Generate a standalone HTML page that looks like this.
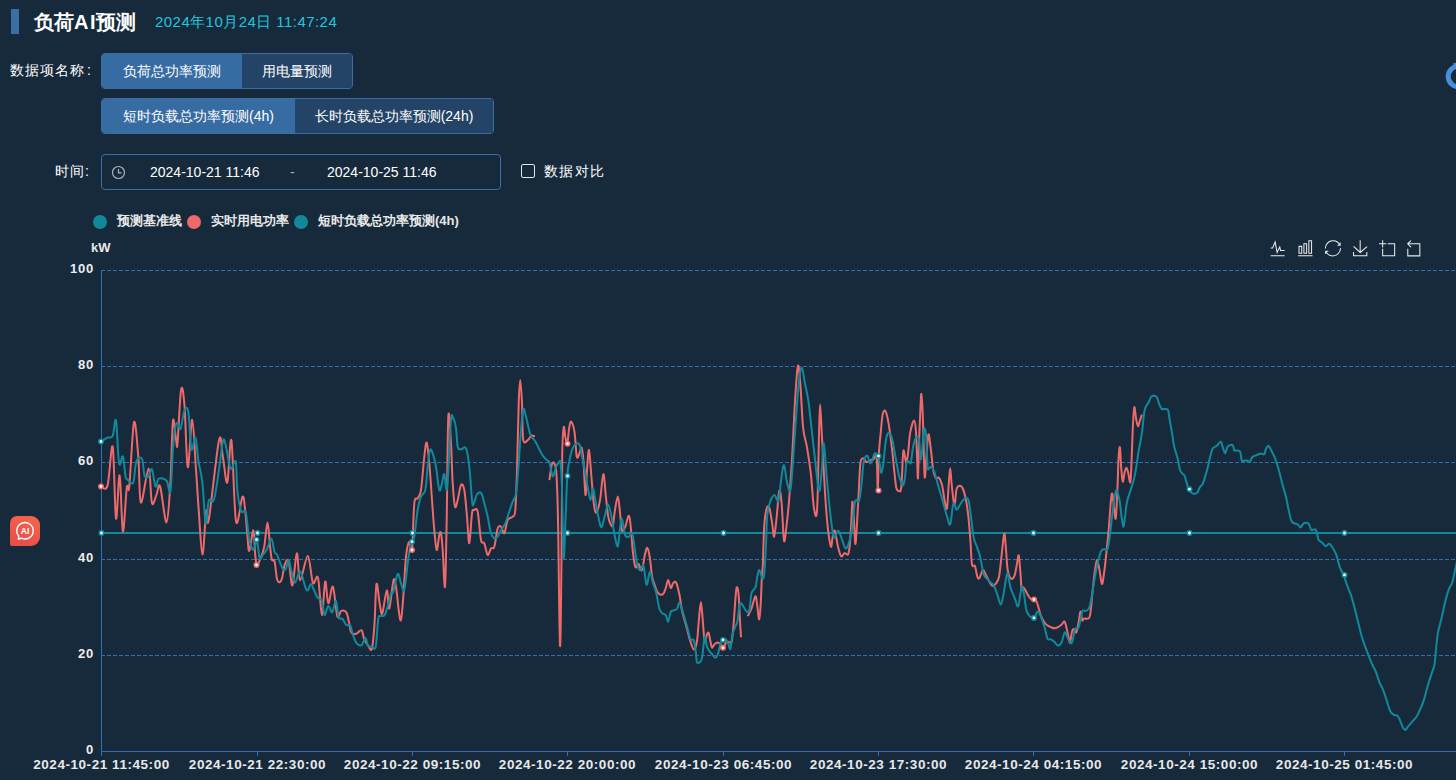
<!DOCTYPE html>
<html><head><meta charset="utf-8">
<style>
*{box-sizing:border-box;margin:0;padding:0}
html,body{width:1456px;height:780px;overflow:hidden;background:#162a3b;font-family:"Liberation Sans",sans-serif;color:#fff}
.a{position:absolute;white-space:nowrap}
.bar{left:11px;top:9px;width:8px;height:25px;background:#3a6ea5}
.title{left:34px;top:10px;font-size:20px;font-weight:bold;line-height:24px;color:#fff;letter-spacing:0px}
.date{left:155px;top:13px;font-size:15px;line-height:18px;color:#22c5dc;letter-spacing:0.45px}
.lbl{font-size:14px;line-height:20px;color:#fff}
.grp{display:flex;height:36px;border:1px solid #3a6ea5;border-radius:4px;overflow:hidden}
.btn{height:34px;line-height:34px;font-size:14px;color:#fff;text-align:center;background:#234466}
.btn.on{background:#376ca2}
.inp{left:101px;top:154px;width:400px;height:36px;border:1px solid #3a6ea5;border-radius:4px}
.chk{left:521px;top:164px;width:14px;height:14px;border:1px solid #e6e6e6;border-radius:2px}
.lg{font-size:13px;font-weight:bold;line-height:16px;color:#e8e8e8}
.dot{width:14px;height:14px;border-radius:50%}
svg text.yl{font-size:13px;font-weight:bold;fill:#eee;font-family:"Liberation Sans",sans-serif;letter-spacing:0.8px}
svg text.xl{font-size:13.5px;font-weight:bold;fill:#e8e8e8;font-family:"Liberation Sans",sans-serif;letter-spacing:0.55px}
.ai{left:10px;top:516px;width:30px;height:30px;border-radius:7px 9px 9px 2px;background:linear-gradient(200deg,#f4674a,#e84b4b)}
</style></head>
<body>
<div class="a bar"></div>
<div class="a title">负荷A<span style="margin-left:1.5px">I</span>预测</div>
<div class="a date">2024年10月24日 11:47:24</div>

<div class="a lbl" style="left:10px;top:60px;letter-spacing:1px">数据项名称<span style="margin-left:2px">:</span></div>
<div class="a grp" style="left:101px;top:53px;width:252px">
 <div class="btn on" style="width:140px">负荷总功率预测</div>
 <div class="btn" style="width:110px">用电量预测</div>
</div>
<div class="a grp" style="left:101px;top:98px;width:393px">
 <div class="btn on" style="width:193px">短时负载总功率预测(4h)</div>
 <div class="btn" style="width:198px">长时负载总功率预测(24h)</div>
</div>

<div class="a lbl" style="left:55px;top:161px;letter-spacing:1px">时间<span style="margin-left:0px">:</span></div>
<div class="a inp"></div>
<svg class="a" style="left:111px;top:165px" width="15" height="15" viewBox="0 0 15 15"><circle cx="7.5" cy="7.5" r="6" fill="none" stroke="#aab4be" stroke-width="1.2"/><path d="M7.5,4 V7.8 H10.5" fill="none" stroke="#aab4be" stroke-width="1.2"/></svg>
<div class="a lbl" style="left:150px;top:162px">2024-10-21 11:46</div>
<div class="a lbl" style="left:290px;top:162px;color:#aab">-</div>
<div class="a lbl" style="left:327px;top:162px">2024-10-25 11:46</div>
<div class="a chk"></div>
<div class="a lbl" style="left:544px;top:161px;letter-spacing:1.3px">数据对比</div>

<div class="a dot" style="left:93px;top:215px;background:#12899b"></div>
<div class="a lg" style="left:117px;top:213px">预测基准线</div>
<div class="a dot" style="left:187px;top:215px;background:#ee6a6a"></div>
<div class="a lg" style="left:211px;top:213px">实时用电功率</div>
<div class="a dot" style="left:294px;top:215px;background:#12899b"></div>
<div class="a lg" style="left:318px;top:213px">短时负载总功率预测(4h)</div>
<div class="a lg" style="left:91px;top:240px">kW</div>

<svg class="a" style="left:0;top:0" width="1456" height="780" viewBox="0 0 1456 780">
<line x1="101" y1="270.5" x2="1456" y2="270.5" stroke="#346fab" stroke-width="1" stroke-dasharray="4,2"/><line x1="101" y1="366.5" x2="1456" y2="366.5" stroke="#346fab" stroke-width="1" stroke-dasharray="4,2"/><line x1="101" y1="462.5" x2="1456" y2="462.5" stroke="#346fab" stroke-width="1" stroke-dasharray="4,2"/><line x1="101" y1="559.5" x2="1456" y2="559.5" stroke="#346fab" stroke-width="1" stroke-dasharray="4,2"/><line x1="101" y1="655.5" x2="1456" y2="655.5" stroke="#346fab" stroke-width="1" stroke-dasharray="4,2"/><line x1="101.5" y1="270" x2="101.5" y2="752" stroke="#346fab" stroke-width="1"/><line x1="101" y1="751.5" x2="1456" y2="751.5" stroke="#346fab" stroke-width="1"/><line x1="101.5" y1="751" x2="101.5" y2="756" stroke="#346fab" stroke-width="1"/><line x1="257.5" y1="751" x2="257.5" y2="756" stroke="#346fab" stroke-width="1"/><line x1="412.5" y1="751" x2="412.5" y2="756" stroke="#346fab" stroke-width="1"/><line x1="567.5" y1="751" x2="567.5" y2="756" stroke="#346fab" stroke-width="1"/><line x1="723.5" y1="751" x2="723.5" y2="756" stroke="#346fab" stroke-width="1"/><line x1="878.5" y1="751" x2="878.5" y2="756" stroke="#346fab" stroke-width="1"/><line x1="1033.5" y1="751" x2="1033.5" y2="756" stroke="#346fab" stroke-width="1"/><line x1="1189.5" y1="751" x2="1189.5" y2="756" stroke="#346fab" stroke-width="1"/><line x1="1344.5" y1="751" x2="1344.5" y2="756" stroke="#346fab" stroke-width="1"/><text x="94" y="272.9" text-anchor="end" class="yl">100</text><text x="94" y="368.9" text-anchor="end" class="yl">80</text><text x="94" y="464.9" text-anchor="end" class="yl">60</text><text x="94" y="561.9" text-anchor="end" class="yl">40</text><text x="94" y="657.9" text-anchor="end" class="yl">20</text><text x="94" y="753.9" text-anchor="end" class="yl">0</text><text x="101.5" y="769" text-anchor="middle" class="xl">2024-10-21 11:45:00</text><text x="257.5" y="769" text-anchor="middle" class="xl">2024-10-21 22:30:00</text><text x="412.5" y="769" text-anchor="middle" class="xl">2024-10-22 09:15:00</text><text x="567.5" y="769" text-anchor="middle" class="xl">2024-10-22 20:00:00</text><text x="723.5" y="769" text-anchor="middle" class="xl">2024-10-23 06:45:00</text><text x="878.5" y="769" text-anchor="middle" class="xl">2024-10-23 17:30:00</text><text x="1033.5" y="769" text-anchor="middle" class="xl">2024-10-24 04:15:00</text><text x="1189.5" y="769" text-anchor="middle" class="xl">2024-10-24 15:00:00</text><text x="1344.5" y="769" text-anchor="middle" class="xl">2024-10-25 01:45:00</text>
<line x1="101" y1="533" x2="1456" y2="533" stroke="#12899b" stroke-width="2"/>
<path d="M101.0,486.4 C102.1,486.3 105.5,492.2 107.5,485.6 C109.5,479.0 111.3,441.2 112.7,446.7 C114.1,452.2 114.8,513.7 116.0,518.5 C117.2,523.3 118.4,473.3 119.6,475.4 C120.8,477.5 121.7,529.2 122.9,531.3 C124.1,533.3 125.7,495.2 126.8,487.7 C127.9,480.2 128.1,497.3 129.3,486.4 C130.5,475.5 132.5,427.2 134.0,422.3 C135.5,417.4 137.2,443.6 138.3,457.0 C139.5,470.4 139.2,500.7 140.9,502.6 C142.6,504.5 146.8,468.4 148.6,468.5 C150.4,468.6 150.6,498.5 151.9,503.0 C153.2,507.5 154.9,498.2 156.3,495.4 C157.7,492.6 158.4,481.9 160.1,486.4 C161.8,490.9 164.8,522.9 166.5,522.3 C168.2,521.7 169.3,499.5 170.4,482.6 C171.5,465.7 172.0,428.3 172.9,421.0 C173.8,413.7 175.2,435.2 176.0,439.0 C176.8,442.8 176.7,451.8 177.5,443.6 C178.3,435.4 179.9,396.0 181.1,389.7 C182.3,383.4 183.4,392.7 184.5,405.6 C185.6,418.5 186.5,464.9 187.8,467.2 C189.1,469.5 190.8,419.3 192.2,419.7 C193.6,420.1 194.9,454.9 196.0,469.7 C197.1,484.4 197.5,494.1 198.6,508.2 C199.7,522.3 201.1,554.0 202.4,554.4 C203.7,554.8 205.2,516.6 206.3,510.8 C207.4,505.0 206.7,531.5 208.8,519.7 C210.9,508.0 216.7,450.8 219.0,440.3 C221.3,429.9 221.5,449.9 222.9,457.0 C224.3,464.1 225.9,485.4 227.3,482.6 C228.7,479.8 230.0,433.9 231.4,440.3 C232.8,446.8 234.2,511.9 236.0,521.3 C237.8,530.7 240.9,499.0 242.4,496.9 C243.9,494.8 244.2,501.9 245.0,508.5 C245.8,515.1 246.8,529.7 247.5,536.7 C248.2,543.8 248.3,551.9 249.3,550.8 C250.3,549.7 252.4,529.7 253.4,530.3 C254.4,530.9 254.6,548.8 255.2,554.6 C255.8,560.4 256.1,564.2 257.0,564.9 C257.9,565.5 259.2,561.5 260.4,558.5 C261.6,555.5 263.0,552.9 264.2,546.9 C265.4,540.9 266.5,522.6 267.5,522.6 C268.5,522.6 269.4,540.7 270.1,546.9 C270.8,553.1 271.2,557.4 271.9,559.7 C272.6,562.1 273.6,557.8 274.5,561.0 C275.4,564.2 276.1,575.5 277.0,579.0 C277.9,582.5 278.7,582.5 279.6,582.3 C280.5,582.1 281.4,580.6 282.2,577.7 C283.0,574.8 283.6,567.7 284.7,564.9 C285.8,562.1 287.3,557.6 288.6,561.0 C289.9,564.4 291.0,586.7 292.4,585.4 C293.8,584.1 295.5,554.1 296.8,553.3 C298.1,552.4 298.3,579.9 300.1,580.3 C301.9,580.7 305.7,555.5 307.8,555.9 C309.9,556.3 311.2,579.2 312.9,582.8 C314.6,586.4 316.5,572.4 318.0,577.7 C319.5,583.1 320.7,614.3 321.9,614.9 C323.1,615.5 324.1,583.4 325.2,581.5 C326.3,579.6 327.0,602.4 328.3,603.3 C329.6,604.2 331.4,584.6 332.9,586.7 C334.4,588.9 335.9,612.2 337.3,616.2 C338.7,620.2 339.6,611.6 341.1,611.0 C342.6,610.4 345.0,610.6 346.3,612.3 C347.6,614.0 348.0,617.9 348.8,621.3 C349.6,624.7 350.1,630.8 351.4,632.8 C352.7,634.8 354.8,634.0 356.5,633.6 C358.2,633.2 360.3,629.4 361.6,630.3 C362.9,631.2 363.1,636.7 364.2,639.2 C365.3,641.8 366.8,644.0 368.1,645.6 C369.4,647.2 370.8,652.3 371.9,648.7 C373.0,645.1 373.7,634.6 374.5,623.8 C375.3,613.0 375.6,587.5 376.5,584.1 C377.4,580.7 378.7,598.4 379.6,603.3 C380.6,608.2 381.0,615.7 382.2,613.6 C383.4,611.5 385.6,591.4 386.8,590.5 C388.0,589.6 388.2,610.2 389.3,608.5 C390.4,606.8 392.4,583.9 393.5,580.3 C394.6,576.7 395.1,581.8 396.0,586.7 C396.9,591.7 397.9,604.5 398.7,610.0 C399.5,615.5 400.2,622.2 401.0,620.0 C401.8,617.8 402.5,607.2 403.3,596.7 C404.1,586.2 405.0,565.9 406.0,556.7 C407.0,547.5 408.3,542.8 409.3,541.7 C410.3,540.6 411.2,556.4 412.0,550.0 C412.8,543.6 413.4,511.9 414.3,503.3 C415.2,494.7 416.6,500.5 417.7,498.3 C418.8,496.1 419.9,496.9 421.0,490.0 C422.1,483.1 423.4,464.6 424.3,456.7 C425.2,448.8 425.9,441.6 426.7,442.7 C427.5,443.8 428.4,453.8 429.3,463.3 C430.2,472.9 431.2,488.9 432.0,500.0 C432.8,511.1 433.5,521.7 434.3,530.0 C435.1,538.3 435.9,549.2 436.7,550.0 C437.5,550.8 438.6,537.8 439.3,535.0 C440.0,532.2 440.4,530.8 441.0,533.3 C441.6,535.8 442.0,541.1 442.7,550.0 C443.4,558.9 444.3,591.7 445.0,586.7 C445.7,581.7 446.1,548.3 446.7,520.0 C447.2,491.7 447.6,429.5 448.3,416.7 C449.0,403.9 450.3,432.2 451.0,443.3 C451.7,454.4 452.0,472.7 452.7,483.3 C453.4,493.9 454.2,503.9 455.0,506.7 C455.8,509.5 456.7,503.6 457.7,500.0 C458.7,496.4 459.9,486.7 461.0,485.0 C462.1,483.3 463.3,484.7 464.3,490.0 C465.3,495.3 466.2,507.8 467.0,516.7 C467.8,525.6 468.5,543.9 469.3,543.3 C470.1,542.7 471.2,518.8 472.0,513.3 C472.8,507.7 473.4,510.3 474.3,510.0 C475.2,509.7 476.6,506.7 477.7,511.7 C478.8,516.7 479.9,534.7 481.0,540.0 C482.1,545.3 483.2,540.8 484.3,543.3 C485.4,545.8 486.6,554.2 487.7,555.0 C488.8,555.8 489.9,549.7 491.0,548.3 C492.1,546.9 493.2,550.0 494.3,546.7 C495.4,543.4 496.6,531.6 497.7,528.3 C498.8,525.0 499.9,525.9 501.0,526.7 C502.1,527.5 503.2,534.4 504.3,533.3 C505.4,532.2 506.3,522.8 507.7,520.0 C509.1,517.2 511.4,518.4 512.7,516.7 C514.0,515.0 514.6,517.8 515.3,510.0 C516.0,502.2 516.4,487.8 517.0,470.0 C517.6,452.2 518.2,418.3 518.7,403.3 C519.2,388.3 519.8,380.0 520.3,380.0 C520.8,380.0 521.5,393.4 522.0,403.3 C522.5,413.2 522.2,433.6 523.2,439.6 C524.2,445.7 526.9,440.3 528.3,439.6 C529.7,438.9 530.3,436.0 531.4,435.5 C532.5,435.0 534.4,436.3 535.0,436.5" fill="none" stroke="#ee6a6a" stroke-width="2" stroke-linejoin="round"/><path d="M549.4,480.1 C549.8,477.5 551.0,466.9 551.9,464.2 C552.8,461.5 553.7,461.9 554.5,463.7 C555.3,465.5 555.9,465.6 556.5,475.0 C557.1,484.4 557.4,491.6 558.0,520.0 C558.6,548.5 559.4,639.0 560.0,645.7 C560.6,652.4 561.1,591.6 561.5,560.0 C561.9,528.4 561.8,478.1 562.2,456.0 C562.6,433.9 563.2,430.3 563.7,427.3 C564.2,424.3 564.9,435.3 565.5,438.0 C566.1,440.7 566.7,445.4 567.3,443.7 C567.9,442.0 568.6,431.7 569.2,428.0 C569.9,424.3 570.3,421.0 571.2,421.7 C572.1,422.4 573.6,426.4 574.5,432.0 C575.4,437.6 575.9,450.8 576.5,455.0 C577.1,459.2 577.6,457.5 578.1,457.0 C578.6,456.5 579.2,453.5 579.8,452.0 C580.4,450.5 581.1,446.1 581.7,447.8 C582.3,449.5 582.9,454.1 583.5,462.0 C584.1,469.9 584.9,493.7 585.5,495.0 C586.1,496.3 586.4,477.5 587.0,470.0 C587.6,462.5 588.3,449.2 589.0,449.9 C589.7,450.6 590.4,465.1 591.2,474.0 C592.0,482.9 592.9,496.6 593.7,503.0 C594.6,509.4 595.2,513.1 596.3,512.6 C597.4,512.1 598.9,506.2 600.1,499.8 C601.3,493.4 602.3,474.6 603.3,474.1 C604.3,473.6 605.1,489.7 605.9,496.6 C606.7,503.6 607.4,511.3 608.1,515.8 C608.9,520.3 609.6,522.2 610.4,523.8 C611.2,525.4 612.3,527.3 613.0,525.4 C613.7,523.5 613.8,517.4 614.6,512.6 C615.4,507.8 616.9,496.6 617.8,496.6 C618.7,496.6 619.3,507.0 620.0,512.6 C620.7,518.2 621.0,527.8 621.9,530.2 C622.8,532.6 623.9,529.4 625.1,527.0 C626.3,524.6 628.0,515.0 629.0,515.8 C630.0,516.6 630.6,525.9 631.2,531.8 C631.8,537.7 632.1,545.2 632.8,551.1 C633.5,557.0 634.4,565.0 635.4,567.1 C636.4,569.2 637.5,563.4 638.6,563.9 C639.7,564.4 640.7,571.9 641.8,570.3 C642.9,568.7 644.1,558.0 645.0,554.3 C645.9,550.6 646.5,547.4 647.3,547.9 C648.1,548.4 649.0,552.7 649.8,557.5 C650.6,562.3 651.3,572.2 652.1,576.7 C652.9,581.2 653.7,582.0 654.6,584.7 C655.5,587.4 656.5,591.1 657.8,592.7 C659.1,594.3 661.3,595.2 662.6,594.4 C663.9,593.6 664.9,590.4 665.8,588.0 C666.7,585.6 667.3,579.9 668.1,579.9 C668.9,579.9 669.9,587.5 670.7,588.0 C671.6,588.5 672.3,584.0 673.2,583.1 C674.1,582.2 675.1,580.7 676.1,582.5 C677.1,584.3 678.3,589.4 679.3,594.0 C680.3,598.6 681.1,605.9 681.9,610.0 C682.7,614.1 683.2,615.1 684.1,618.4 C685.0,621.7 686.3,626.4 687.3,630.0 C688.3,633.6 688.9,636.8 690.0,640.0 C691.1,643.2 692.6,649.3 693.8,649.5 C695.0,649.7 696.2,645.8 697.0,641.0 C697.8,636.2 698.1,627.5 698.8,621.0 C699.4,614.5 700.2,602.0 700.9,602.0 C701.6,602.0 702.2,614.4 702.8,621.0 C703.4,627.6 704.1,639.5 704.7,641.8 C705.4,644.1 706.1,636.5 706.7,635.0 C707.4,633.5 708.0,631.7 708.6,632.8 C709.2,633.9 709.9,639.3 710.5,641.8 C711.1,644.3 711.4,647.2 712.0,647.6 C712.6,648.0 713.5,645.3 714.4,644.4 C715.3,643.5 716.5,642.4 717.6,642.4 C718.7,642.4 719.9,643.5 720.8,644.4 C721.7,645.3 722.1,648.2 723.1,647.8 C724.1,647.4 725.4,642.7 726.5,641.8 C727.6,640.9 728.8,642.4 729.7,642.4 C730.6,642.4 731.1,644.9 731.7,641.8 C732.4,638.7 732.9,631.9 733.6,623.8 C734.3,615.7 735.3,599.2 735.9,593.1 C736.5,587.0 736.7,586.9 737.2,587.3 C737.7,587.7 738.2,589.9 738.7,595.6 C739.2,601.3 739.6,614.3 740.0,621.3 C740.4,628.2 740.8,634.6 741.0,637.3" fill="none" stroke="#ee6a6a" stroke-width="2" stroke-linejoin="round"/><path d="M747.7,616.2 C748.3,614.9 750.2,611.8 751.5,608.5 C752.8,605.2 754.4,596.7 755.4,596.3 C756.4,595.9 756.7,602.0 757.3,605.9 C757.9,609.8 758.6,620.0 759.2,619.4 C759.8,618.8 760.4,609.0 760.8,602.0 C761.2,595.0 761.5,583.9 761.8,577.7 C762.1,571.5 762.4,573.5 762.8,565.0 C763.2,556.5 763.6,536.1 764.2,526.7 C764.8,517.4 765.6,512.1 766.5,508.9 C767.4,505.7 768.4,505.4 769.3,507.7 C770.2,510.0 771.3,518.0 772.1,522.8 C772.9,527.6 773.4,537.4 774.1,536.7 C774.8,536.0 775.6,526.4 776.5,518.8 C777.4,511.2 778.4,493.6 779.2,491.0 C780.1,488.4 780.8,494.6 781.6,502.9 C782.4,511.2 783.2,536.6 784.0,540.6 C784.8,544.6 785.5,533.7 786.4,526.7 C787.3,519.8 788.3,510.1 789.2,498.9 C790.1,487.6 791.0,475.7 792.0,459.2 C793.0,442.7 794.1,415.2 795.1,399.7 C796.1,384.2 797.0,368.6 797.9,366.0 C798.8,363.4 799.4,373.6 800.3,383.8 C801.2,394.1 802.0,416.9 803.1,427.5 C804.2,438.1 805.7,439.4 807.0,447.3 C808.3,455.2 809.9,465.2 811.0,475.1 C812.1,485.0 812.8,500.9 813.8,506.9 C814.8,512.9 816.1,522.1 817.0,510.9 C817.9,499.6 818.4,457.1 818.9,439.4 C819.4,421.7 819.6,404.5 820.1,404.5 C820.6,404.5 821.3,425.0 822.1,439.4 C822.9,453.8 824.0,476.4 824.9,491.0 C825.8,505.6 826.7,517.4 827.7,526.7 C828.7,536.0 830.1,544.9 830.9,546.6 C831.7,548.3 832.0,539.8 832.6,537.1 C833.2,534.5 833.9,529.1 834.8,530.7 C835.7,532.3 836.9,542.4 838.0,546.7 C839.1,551.0 840.1,555.2 841.2,556.3 C842.3,557.4 843.2,553.6 844.4,553.1 C845.6,552.6 847.5,556.8 848.6,553.1 C849.7,549.4 850.2,539.2 850.8,530.7 C851.4,522.2 851.9,503.4 852.4,501.8 C852.9,500.2 853.5,514.1 854.0,521.1 C854.5,528.1 854.9,547.0 855.6,543.5 C856.3,540.0 857.5,513.2 858.3,500.0 C859.1,486.8 859.5,471.1 860.3,464.1 C861.0,457.2 861.7,458.7 862.8,458.3 C863.9,457.9 865.4,461.7 866.7,462.0 C868.0,462.3 869.4,460.6 870.5,460.2 C871.6,459.8 872.3,459.9 873.3,459.5 C874.3,459.1 875.9,452.4 876.6,457.5 C877.4,462.6 877.4,490.8 877.8,490.4 C878.2,490.0 878.3,464.8 878.8,455.1 C879.3,445.4 880.1,438.8 880.8,432.0 C881.4,425.2 882.0,417.6 882.7,414.1 C883.5,410.6 884.4,410.0 885.3,410.9 C886.1,411.8 887.1,415.9 887.8,419.2 C888.5,422.5 889.0,425.4 889.7,430.8 C890.5,436.2 891.5,444.7 892.3,451.3 C893.0,457.9 893.6,464.5 894.2,470.5 C894.9,476.5 895.5,483.8 896.2,487.2 C897.0,490.6 897.9,491.0 898.7,491.0 C899.6,491.0 900.5,493.7 901.3,487.2 C902.0,480.7 902.6,456.9 903.2,451.9 C903.8,446.9 904.5,455.2 905.0,457.0 C905.5,458.8 905.9,463.8 906.4,462.8 C906.9,461.9 907.6,456.4 908.3,451.3 C908.9,446.2 909.3,437.1 910.3,432.0 C911.3,426.9 913.1,420.5 914.1,420.5 C915.1,420.5 915.5,424.8 916.0,432.0 C916.5,439.2 917.0,456.4 917.3,464.0 C917.6,471.6 917.7,481.9 918.0,477.6 C918.3,473.4 918.8,450.4 919.2,438.5 C919.6,426.6 920.1,413.8 920.5,406.4 C920.9,399.0 921.0,391.8 921.4,394.4 C921.8,396.9 922.5,408.1 923.0,421.7 C923.5,435.3 924.1,469.8 924.6,476.2 C925.1,482.6 925.6,467.1 926.2,460.2 C926.8,453.2 927.6,436.1 928.4,434.5 C929.2,432.9 930.2,444.6 931.0,450.5 C931.8,456.4 932.4,465.2 933.2,469.8 C934.0,474.4 934.8,476.5 935.8,477.8 C936.8,479.1 937.9,476.5 939.0,477.8 C940.1,479.1 941.2,481.8 942.2,485.8 C943.2,489.8 944.0,498.1 944.8,501.8 C945.6,505.5 946.4,510.9 947.0,508.2 C947.6,505.5 948.1,492.5 948.6,485.8 C949.1,479.1 949.7,468.2 950.2,468.2 C950.7,468.2 951.1,479.7 951.8,485.8 C952.5,491.9 953.6,504.5 954.4,505.0 C955.2,505.5 955.7,492.2 956.6,489.0 C957.5,485.8 958.7,485.8 959.8,485.8 C960.9,485.8 961.9,486.3 963.0,489.0 C964.1,491.7 965.4,497.0 966.3,501.8 C967.2,506.6 967.8,511.5 968.5,517.9 C969.2,524.3 969.8,532.5 970.4,540.3 C971.0,548.0 971.2,560.1 972.0,564.4 C972.8,568.7 974.0,563.9 974.9,566.0 C975.8,568.1 976.7,575.2 977.5,577.2 C978.3,579.2 978.6,579.2 979.5,578.0 C980.4,576.8 981.8,570.8 982.8,570.1 C983.8,569.4 984.2,571.9 985.2,573.6 C986.2,575.3 987.6,578.5 988.7,580.5 C989.9,582.5 991.0,585.1 992.1,585.7 C993.2,586.3 994.5,585.4 995.6,583.9 C996.8,582.4 998.0,581.6 999.0,577.0 C1000.0,572.4 1000.6,563.4 1001.5,556.2 C1002.4,549.0 1003.5,534.9 1004.2,533.7 C1005.0,532.6 1005.4,543.2 1006.0,549.3 C1006.6,555.4 1006.8,565.2 1007.7,570.1 C1008.6,575.0 1010.1,577.8 1011.2,578.7 C1012.4,579.6 1013.6,577.9 1014.6,575.3 C1015.6,572.7 1016.4,566.5 1017.1,563.2 C1017.8,559.9 1018.2,553.8 1018.8,555.5 C1019.4,557.2 1020.0,568.0 1020.5,573.6 C1021.0,579.2 1021.1,586.8 1021.6,589.1 C1022.1,591.4 1022.6,587.1 1023.3,587.4 C1024.0,587.7 1024.8,589.5 1025.7,590.9 C1026.6,592.3 1027.6,594.6 1028.5,596.0 C1029.4,597.4 1030.4,598.9 1031.3,599.5 C1032.2,600.1 1032.9,599.3 1033.7,599.5 C1034.5,599.7 1035.3,599.5 1036.1,600.6 C1036.8,601.8 1037.5,604.0 1038.2,606.4 C1039.0,608.8 1039.6,612.5 1040.6,615.1 C1041.6,617.7 1042.9,620.3 1044.1,622.0 C1045.2,623.7 1046.3,624.6 1047.5,625.5 C1048.7,626.4 1049.8,626.7 1051.0,627.2 C1052.2,627.7 1053.3,628.3 1054.5,628.3 C1055.7,628.3 1056.8,627.8 1057.9,627.2 C1059.1,626.6 1060.2,625.7 1061.4,624.8 C1062.6,623.9 1063.7,620.1 1064.8,622.0 C1065.9,623.9 1067.4,632.4 1068.3,635.9 C1069.2,639.4 1069.4,643.4 1070.0,642.8 C1070.6,642.2 1071.2,634.7 1071.8,632.4 C1072.4,630.1 1072.8,629.0 1073.5,629.0 C1074.2,629.0 1075.4,633.6 1076.3,632.4 C1077.2,631.2 1078.0,625.5 1078.7,622.0 C1079.4,618.5 1079.8,611.9 1080.4,611.6 C1081.0,611.3 1081.6,619.1 1082.2,620.3 C1082.8,621.5 1083.0,618.9 1083.9,618.6 C1084.8,618.3 1086.4,619.2 1087.4,618.6 C1088.4,618.0 1089.2,619.7 1090.1,615.1 C1091.0,610.5 1091.8,598.4 1092.6,590.9 C1093.4,583.4 1094.2,575.3 1095.0,570.1 C1095.8,564.9 1096.3,559.7 1097.1,559.7 C1097.8,559.7 1098.7,566.1 1099.5,570.1 C1100.3,574.1 1101.2,583.3 1101.9,583.9 C1102.7,584.5 1103.2,578.8 1104.0,573.6 C1104.8,568.4 1105.6,560.3 1106.4,552.8 C1107.2,545.3 1108.0,537.2 1108.8,528.5 C1109.5,519.8 1110.3,506.6 1110.9,500.8 C1111.5,495.0 1111.8,492.8 1112.3,493.9 C1112.8,495.0 1113.4,503.7 1114.0,507.7 C1114.6,511.7 1115.2,521.6 1115.8,518.1 C1116.4,514.6 1117.0,496.8 1117.5,487.0 C1118.0,477.2 1118.1,465.9 1118.5,459.3 C1118.9,452.7 1119.5,445.7 1119.9,447.1 C1120.4,448.5 1120.7,461.9 1121.2,467.7 C1121.7,473.4 1122.2,480.8 1122.8,481.6 C1123.4,482.4 1124.0,474.7 1124.6,472.4 C1125.2,470.1 1125.9,467.7 1126.5,467.7 C1127.1,467.7 1127.4,470.1 1128.1,472.4 C1128.8,474.7 1129.8,485.5 1130.4,481.6 C1131.1,477.8 1131.6,458.5 1132.0,449.3 C1132.4,440.1 1132.5,433.2 1132.9,426.2 C1133.3,419.2 1133.8,408.3 1134.3,407.2 C1134.8,406.1 1135.6,416.1 1136.2,419.3 C1136.8,422.5 1137.4,425.8 1138.0,426.2 C1138.6,426.6 1138.9,423.5 1139.6,421.6 C1140.2,419.7 1141.5,415.8 1141.9,414.6" fill="none" stroke="#ee6a6a" stroke-width="2" stroke-linejoin="round"/>
<path d="M101.1,441.5 C102.2,440.9 105.6,438.6 107.5,437.7 C109.4,436.8 111.3,438.8 112.7,435.9 C114.1,433.0 114.9,415.9 116.0,420.5 C117.1,425.1 117.9,457.3 119.1,463.3 C120.2,469.3 121.8,454.2 122.9,456.4 C124.0,458.5 124.7,472.3 125.5,476.2 C126.3,480.1 126.7,478.9 128.0,480.0 C129.3,481.1 131.9,485.2 133.2,482.6 C134.5,480.0 134.8,468.7 135.7,464.6 C136.5,460.5 137.2,459.1 138.3,458.2 C139.4,457.3 141.1,456.5 142.2,459.5 C143.3,462.5 143.6,473.4 144.7,476.2 C145.8,479.0 147.4,477.4 148.6,476.2 C149.8,475.0 150.8,467.5 151.9,469.2 C153.1,470.9 154.3,484.8 155.5,486.4 C156.7,488.0 157.0,479.7 158.8,478.7 C160.6,477.7 164.6,478.4 166.5,480.5 C168.4,482.6 169.3,496.7 170.4,491.5 C171.5,486.3 172.1,460.1 172.9,449.2 C173.8,438.3 174.7,430.5 175.5,426.2 C176.3,421.9 177.2,423.2 178.0,423.6 C178.8,424.0 179.5,430.9 180.6,428.7 C181.7,426.5 183.2,413.1 184.5,410.3 C185.8,407.5 187.2,405.5 188.3,412.0 C189.5,418.5 190.2,444.9 191.4,449.2 C192.6,453.5 194.3,435.6 195.5,437.7 C196.7,439.8 197.4,454.5 198.6,462.0 C199.8,469.5 201.2,472.3 202.4,482.6 C203.6,492.9 204.6,520.6 205.7,523.6 C206.8,526.6 207.4,504.4 208.8,500.5 C210.2,496.6 212.2,505.1 213.9,500.0 C215.6,494.9 217.5,479.4 219.0,469.7 C220.5,459.9 221.8,445.8 222.9,441.5 C224.0,437.2 224.2,439.6 225.5,444.1 C226.8,448.6 228.9,465.6 230.6,468.5 C232.3,471.4 234.6,457.9 235.7,461.5 C236.8,465.1 236.4,481.8 237.3,490.0 C238.2,498.2 239.7,507.3 241.1,511.0 C242.5,514.7 244.4,508.0 245.7,512.3 C247.0,516.6 247.9,530.9 248.8,536.7 C249.8,542.5 250.5,544.9 251.4,547.0 C252.3,549.1 253.1,550.7 254.0,549.5 C254.9,548.3 256.1,538.2 257.0,539.7 C257.9,541.2 258.6,556.0 259.6,558.5 C260.6,561.0 261.7,556.1 262.9,554.6 C264.1,553.1 265.4,552.1 266.8,549.5 C268.2,546.9 270.1,538.3 271.4,538.7 C272.7,539.1 273.6,549.4 274.5,552.0 C275.4,554.6 275.9,552.5 277.0,554.6 C278.1,556.8 279.8,562.4 280.9,564.9 C282.0,567.4 282.5,568.9 283.4,569.5 C284.2,570.1 285.1,570.3 286.0,568.7 C286.9,567.1 287.8,559.5 288.6,559.7 C289.5,559.9 290.0,566.1 291.1,570.0 C292.2,573.9 293.5,582.6 295.0,582.8 C296.5,583.0 298.4,570.6 300.1,571.3 C301.8,571.9 303.9,583.5 305.2,586.7 C306.5,589.9 306.9,590.9 307.8,590.5 C308.8,590.1 309.8,584.1 310.9,584.1 C312.0,584.1 313.0,588.1 314.2,590.5 C315.4,592.9 316.7,596.5 318.0,598.2 C319.3,599.9 320.8,598.0 321.9,600.8 C323.0,603.6 323.4,614.0 324.5,614.9 C325.6,615.8 327.0,606.3 328.3,605.9 C329.6,605.5 330.9,613.1 332.2,612.3 C333.5,611.4 334.9,599.9 336.0,600.8 C337.1,601.6 337.5,614.4 338.6,617.4 C339.7,620.4 341.1,617.4 342.4,618.7 C343.7,620.0 345.0,624.0 346.3,625.1 C347.6,626.2 349.0,623.6 350.1,625.1 C351.2,626.6 351.6,631.1 352.7,634.1 C353.8,637.1 355.0,641.3 356.5,643.1 C358.0,644.9 360.1,646.0 361.6,645.1 C363.1,644.2 364.4,637.9 365.5,638.0 C366.6,638.1 366.9,644.1 368.0,645.6 C369.1,647.1 370.6,646.7 371.9,646.9 C373.2,647.1 374.6,651.6 375.7,646.9 C376.8,642.2 377.4,623.8 378.3,618.7 C379.2,613.6 379.8,616.8 380.9,616.2 C382.0,615.6 383.4,617.0 384.7,614.9 C386.0,612.8 387.5,606.9 388.6,603.3 C389.7,599.7 390.3,595.0 391.1,593.1 C391.9,591.2 392.2,594.9 393.3,591.7 C394.4,588.5 396.4,575.4 397.7,574.0 C399.0,572.6 399.9,580.6 401.0,583.3 C402.1,586.0 403.2,593.3 404.3,590.0 C405.4,586.7 406.8,570.2 407.7,563.3 C408.6,556.3 409.3,551.9 410.0,548.3 C410.7,544.7 411.3,543.6 412.0,541.7 C412.7,539.8 413.4,542.0 414.3,536.7 C415.2,531.4 416.6,516.7 417.7,510.0 C418.8,503.3 419.7,500.0 421.0,496.7 C422.3,493.4 424.2,495.0 425.3,490.0 C426.4,485.0 426.9,473.4 427.7,466.7 C428.5,460.0 429.2,452.2 430.0,450.0 C430.8,447.8 431.7,450.5 432.7,453.3 C433.7,456.1 434.9,460.6 436.0,466.7 C437.1,472.8 438.3,487.2 439.3,490.0 C440.3,492.8 441.2,486.0 442.0,483.3 C442.8,480.6 443.5,472.9 444.3,474.0 C445.1,475.1 446.0,491.8 446.7,490.0 C447.4,488.2 448.0,475.0 448.7,463.3 C449.4,451.6 450.3,427.8 451.0,420.0 C451.7,412.2 451.9,415.3 452.7,416.7 C453.5,418.1 455.2,423.3 456.0,428.3 C456.8,433.3 456.9,443.2 457.7,446.7 C458.5,450.2 459.6,449.0 461.0,449.3 C462.4,449.6 464.6,445.4 466.0,448.3 C467.4,451.2 468.3,458.1 469.3,466.7 C470.3,475.3 471.3,493.6 472.0,500.0 C472.7,506.4 472.5,505.8 473.3,505.0 C474.1,504.2 475.4,497.1 476.7,495.0 C478.0,492.9 479.7,491.3 481.0,492.7 C482.3,494.1 483.2,499.3 484.3,503.3 C485.4,507.3 486.6,511.7 487.7,516.7 C488.8,521.7 489.9,529.7 491.0,533.3 C492.1,536.9 493.2,537.7 494.3,538.3 C495.4,538.9 496.6,538.1 497.7,536.7 C498.8,535.3 499.7,532.2 501.0,530.0 C502.3,527.8 504.0,526.1 505.3,523.3 C506.6,520.5 507.5,516.9 508.7,513.3 C509.9,509.7 511.5,505.0 512.7,501.7 C513.9,498.4 515.0,499.7 516.0,493.3 C517.0,486.9 517.9,473.9 518.7,463.3 C519.5,452.8 520.2,439.0 521.0,430.0 C521.8,421.0 522.5,411.5 523.3,409.3 C524.1,407.1 524.8,412.5 526.0,416.7 C527.2,420.9 528.8,430.3 530.4,434.5 C532.0,438.7 533.6,438.4 535.5,441.7 C537.4,444.9 540.0,451.1 541.7,454.0 C543.4,456.9 544.5,457.7 545.8,459.1 C547.1,460.5 548.5,460.4 549.4,462.2 C550.3,464.0 550.4,467.6 551.0,470.0 C551.6,472.4 552.2,477.0 553.0,476.5 C553.8,476.0 555.1,469.3 556.0,467.0 C556.9,464.7 557.8,463.4 558.6,462.7 C559.4,462.0 560.0,458.4 560.6,463.0 C561.2,467.6 561.5,474.2 562.0,490.0 C562.5,505.8 563.0,552.5 563.6,557.5 C564.2,562.5 564.9,533.6 565.5,520.0 C566.1,506.4 566.6,485.8 567.3,476.0 C567.9,466.2 568.5,465.5 569.4,461.0 C570.2,456.5 571.2,451.7 572.4,448.8 C573.6,445.9 575.3,444.4 576.5,443.7 C577.7,443.0 578.7,442.8 579.6,444.7 C580.5,446.6 580.9,450.8 581.7,455.0 C582.6,459.2 583.7,464.5 584.7,470.0 C585.7,475.5 586.8,483.0 587.8,488.0 C588.8,493.0 589.7,499.9 590.6,500.0 C591.5,500.1 592.2,487.6 593.1,488.6 C594.0,489.6 595.2,500.6 596.3,506.2 C597.4,511.8 598.6,518.7 599.5,522.2 C600.4,525.7 600.8,528.1 601.7,527.0 C602.6,525.9 603.8,519.5 604.9,515.8 C606.0,512.1 607.0,504.6 608.1,504.6 C609.2,504.6 610.2,510.7 611.3,515.8 C612.4,520.9 613.5,529.9 614.6,535.0 C615.7,540.1 616.9,547.4 617.8,546.3 C618.7,545.2 619.3,533.1 620.0,528.6 C620.7,524.1 621.0,517.9 621.9,519.0 C622.8,520.1 623.9,532.1 625.1,535.0 C626.3,537.9 627.8,536.9 629.0,536.6 C630.2,536.3 631.2,531.5 632.2,533.4 C633.2,535.3 633.9,542.8 634.7,547.9 C635.5,553.0 636.1,560.2 637.0,563.9 C637.9,567.6 639.1,570.0 640.2,570.3 C641.3,570.6 642.3,563.1 643.4,565.5 C644.5,567.9 645.5,583.6 646.6,584.7 C647.7,585.8 648.7,572.2 649.8,571.9 C650.9,571.6 651.9,579.6 653.0,583.1 C654.1,586.6 655.1,588.4 656.2,592.7 C657.3,597.0 658.3,605.3 659.4,608.8 C660.5,612.3 661.5,612.5 662.6,613.6 C663.7,614.7 664.9,613.9 665.8,615.2 C666.7,616.5 667.3,622.1 668.1,621.6 C668.9,621.1 669.7,613.9 670.7,612.0 C671.7,610.1 672.8,610.9 673.9,610.4 C675.0,609.9 676.2,610.1 677.1,608.8 C678.0,607.5 678.5,602.4 679.3,602.4 C680.1,602.4 680.9,605.9 681.9,608.8 C682.9,611.7 684.0,616.3 685.1,620.0 C686.2,623.7 687.4,628.0 688.3,631.2 C689.2,634.4 689.6,637.7 690.5,639.2 C691.4,640.8 692.9,638.4 693.8,640.5 C694.7,642.6 695.3,648.4 695.8,652.0 C696.3,655.6 696.2,660.7 697.0,662.3 C697.8,663.9 699.4,662.6 700.3,661.7 C701.2,660.9 701.5,661.4 702.2,657.2 C702.9,653.0 704.0,638.6 704.7,636.7 C705.5,634.8 706.0,643.2 706.7,645.6 C707.5,648.0 708.2,649.3 709.2,650.8 C710.2,652.3 711.3,653.4 712.4,654.6 C713.5,655.8 714.6,658.0 715.6,657.8 C716.6,657.6 717.3,656.0 718.2,653.3 C719.1,650.6 720.0,644.0 720.8,641.8 C721.5,639.6 721.9,640.3 722.7,639.9 C723.6,639.5 724.9,638.5 725.9,639.2 C726.9,640.0 727.8,642.8 728.5,644.4 C729.2,646.0 729.8,650.3 730.4,648.8 C731.0,647.3 731.5,638.9 732.3,635.4 C733.0,631.9 734.0,630.1 734.9,627.7 C735.8,625.4 736.6,624.9 737.4,621.3 C738.1,617.7 738.8,608.9 739.4,605.9 C740.0,602.9 740.3,603.1 741.0,603.3 C741.7,603.5 742.9,605.9 743.8,607.2 C744.7,608.5 745.5,610.2 746.4,611.0 C747.3,611.8 748.4,613.0 749.0,611.7 C749.6,610.4 749.9,606.4 750.3,603.3 C750.7,600.2 750.9,595.5 751.5,593.1 C752.1,590.8 753.4,590.5 754.1,589.2 C754.9,587.9 755.5,587.5 756.0,585.4 C756.5,583.3 756.8,579.0 757.3,576.4 C757.8,573.8 758.6,570.2 759.2,570.0 C759.9,569.8 760.6,573.6 761.2,575.1 C761.9,576.6 762.6,579.4 763.1,579.0 C763.6,578.6 763.9,578.3 764.4,572.6 C764.9,566.9 765.5,554.6 766.0,545.0 C766.5,535.4 766.5,522.1 767.3,514.8 C768.0,507.4 769.3,504.2 770.5,500.9 C771.7,497.6 773.2,495.0 774.5,495.0 C775.8,495.0 777.4,503.5 778.5,500.9 C779.6,498.2 780.3,485.1 781.2,479.1 C782.1,473.2 783.0,464.6 784.0,465.2 C785.0,465.8 786.1,478.8 787.2,483.0 C788.3,487.2 789.4,494.2 790.4,490.2 C791.4,486.2 792.2,471.0 793.1,459.2 C794.0,447.4 794.9,432.7 795.9,419.5 C796.9,406.3 798.1,388.4 799.1,379.8 C800.1,371.2 800.9,367.2 801.9,367.9 C802.9,368.6 804.0,378.5 805.0,383.8 C806.0,389.1 807.2,393.1 808.2,399.7 C809.2,406.3 809.9,413.6 811.0,423.5 C812.1,433.4 813.7,447.9 815.0,459.2 C816.3,470.4 817.9,489.0 819.0,491.0 C820.1,493.0 820.9,479.1 821.7,471.2 C822.5,463.3 822.8,442.1 823.7,443.4 C824.6,444.7 825.8,467.7 826.9,479.1 C828.0,490.5 829.0,502.3 830.1,512.0 C831.2,521.7 832.5,534.0 833.8,537.1 C835.1,540.2 836.8,530.7 838.0,530.7 C839.2,530.7 840.0,534.2 841.2,537.1 C842.4,540.0 844.2,547.2 845.4,548.3 C846.6,549.4 847.5,546.4 848.6,543.5 C849.7,540.6 850.7,537.7 851.8,530.7 C852.9,523.8 853.8,506.7 855.0,501.8 C856.2,496.9 857.8,503.9 858.9,501.2 C860.0,498.5 860.6,492.4 861.4,485.8 C862.2,479.2 862.7,466.8 863.7,461.8 C864.7,456.8 866.2,455.5 867.3,455.8 C868.4,456.1 869.3,463.8 870.5,463.5 C871.7,463.2 873.3,455.3 874.4,453.8 C875.5,452.3 876.3,454.1 876.9,454.5 C877.5,454.9 877.5,454.4 878.0,456.0 C878.5,457.6 879.1,461.1 879.7,464.0 C880.3,466.9 880.8,473.1 881.4,473.1 C882.0,473.1 882.6,468.8 883.3,464.1 C883.9,459.4 884.6,449.8 885.3,444.9 C885.9,440.0 886.6,436.5 887.2,434.6 C887.8,432.7 888.5,433.5 889.1,433.6 C889.7,433.7 890.4,433.9 891.0,435.3 C891.6,436.8 892.2,439.2 892.9,442.3 C893.5,445.4 894.2,450.2 894.9,453.8 C895.5,457.4 896.2,460.7 896.8,464.1 C897.4,467.5 898.0,471.3 898.7,474.4 C899.5,477.5 900.5,480.9 901.3,482.7 C902.0,484.5 902.6,486.3 903.2,485.3 C903.8,484.3 904.6,480.6 905.1,476.9 C905.6,473.1 905.8,465.4 906.4,462.8 C907.0,460.2 908.2,461.5 909.0,461.5 C909.8,461.5 910.3,464.9 910.9,462.8 C911.5,460.7 912.0,452.8 912.8,448.7 C913.5,444.6 914.5,440.4 915.4,438.5 C916.3,436.6 917.4,436.8 918.0,437.2 C918.6,437.6 918.8,437.4 919.2,441.0 C919.6,444.6 920.1,456.9 920.5,459.0 C920.9,461.1 921.3,458.3 921.8,453.8 C922.3,449.3 923.2,436.2 923.7,432.0 C924.2,427.8 924.6,427.7 925.0,428.8 C925.4,429.9 925.9,432.2 926.3,438.5 C926.7,444.8 927.2,461.7 927.6,466.7 C928.0,471.7 928.2,468.6 928.8,468.6 C929.4,468.6 930.5,466.2 931.4,466.7 C932.3,467.2 933.2,468.8 934.2,471.4 C935.2,474.0 936.3,478.9 937.4,482.6 C938.5,486.3 939.5,490.1 940.6,493.8 C941.7,497.5 942.7,501.2 943.8,505.0 C944.9,508.8 945.9,513.1 947.0,516.3 C948.1,519.5 949.1,526.4 950.2,524.3 C951.3,522.1 952.3,505.8 953.4,503.4 C954.5,501.0 955.5,509.5 956.6,509.8 C957.7,510.1 958.4,506.9 959.8,505.0 C961.1,503.1 963.2,499.4 964.7,498.6 C966.2,497.8 967.4,497.0 968.5,500.2 C969.6,503.4 970.2,511.8 971.1,517.9 C972.0,524.0 972.7,532.3 973.6,537.1 C974.5,541.9 975.7,543.5 976.8,546.7 C977.9,549.9 978.9,551.7 980.0,556.2 C981.1,560.7 982.4,569.9 983.5,573.6 C984.6,577.4 985.8,577.3 986.9,578.7 C988.0,580.1 989.2,581.0 990.4,582.2 C991.6,583.4 992.8,583.7 993.9,585.7 C995.0,587.7 996.1,591.1 997.3,594.3 C998.4,597.5 999.8,604.7 1000.8,604.7 C1001.8,604.7 1002.6,598.6 1003.5,594.3 C1004.4,590.0 1005.3,582.2 1006.0,578.7 C1006.7,575.2 1007.0,572.2 1007.7,573.6 C1008.5,575.0 1009.4,583.4 1010.5,587.4 C1011.6,591.4 1013.3,594.6 1014.6,597.8 C1015.9,601.0 1017.1,607.5 1018.1,606.4 C1019.1,605.2 1020.2,594.2 1020.9,590.9 C1021.6,587.6 1021.7,585.9 1022.3,586.7 C1022.9,587.6 1023.5,591.9 1024.3,596.0 C1025.0,600.1 1025.4,608.0 1026.8,611.6 C1028.2,615.2 1031.2,617.3 1032.6,617.9 C1034.0,618.5 1034.5,616.1 1035.4,615.1 C1036.3,614.1 1037.1,610.7 1038.2,611.6 C1039.3,612.5 1041.2,617.4 1042.3,620.3 C1043.4,623.2 1044.2,625.9 1045.1,629.0 C1046.0,632.1 1046.5,637.0 1047.5,638.7 C1048.5,640.4 1049.8,638.8 1051.0,639.4 C1052.2,640.0 1053.3,641.1 1054.5,642.1 C1055.7,643.1 1056.8,645.5 1057.9,645.6 C1059.1,645.7 1060.2,645.0 1061.4,642.8 C1062.6,640.6 1063.7,633.0 1064.8,632.4 C1065.9,631.8 1067.1,637.7 1068.3,639.4 C1069.5,641.1 1070.6,644.5 1071.8,642.8 C1073.0,641.1 1074.0,631.6 1075.2,629.0 C1076.4,626.4 1077.5,630.1 1078.7,627.2 C1079.9,624.3 1081.1,614.3 1082.2,611.6 C1083.3,608.9 1084.4,611.6 1085.6,611.0 C1086.8,610.4 1088.1,610.4 1089.1,608.2 C1090.1,606.0 1090.6,602.4 1091.5,597.8 C1092.4,593.2 1093.3,586.3 1094.3,580.5 C1095.3,574.7 1096.5,568.1 1097.7,563.2 C1098.9,558.3 1100.0,553.3 1101.2,551.0 C1102.4,548.7 1103.7,549.6 1104.7,549.3 C1105.7,549.0 1106.5,551.6 1107.4,549.3 C1108.3,547.0 1109.1,541.3 1109.9,535.5 C1110.7,529.7 1111.4,521.6 1112.3,514.7 C1113.2,507.8 1114.3,497.9 1115.1,493.9 C1115.8,489.8 1116.2,490.0 1116.8,490.4 C1117.4,490.8 1118.0,493.9 1118.5,496.0 C1119.0,498.1 1119.5,499.2 1120.0,503.0 C1120.5,506.8 1121.2,514.6 1121.8,518.5 C1122.4,522.4 1123.0,527.0 1123.5,526.6 C1124.0,526.2 1124.5,520.2 1125.1,516.2 C1125.7,512.2 1126.0,506.6 1126.9,502.4 C1127.8,498.2 1129.2,494.6 1130.4,490.8 C1131.6,487.0 1132.9,483.2 1133.9,479.3 C1134.9,475.4 1135.4,472.3 1136.2,467.7 C1137.0,463.1 1137.5,457.4 1138.5,451.6 C1139.5,445.8 1141.0,439.7 1141.9,433.1 C1142.9,426.6 1143.5,416.7 1144.2,412.3 C1144.9,407.9 1145.1,408.3 1145.9,406.6 C1146.7,404.9 1148.0,403.6 1148.9,401.9 C1149.8,400.2 1150.2,397.6 1151.2,396.6 C1152.2,395.6 1153.6,395.6 1154.6,395.7 C1155.5,395.8 1156.1,395.9 1156.9,397.3 C1157.7,398.7 1158.5,402.3 1159.3,404.2 C1160.1,406.1 1160.6,408.1 1161.6,408.9 C1162.5,409.7 1163.9,408.7 1165.0,408.9 C1166.1,409.1 1167.2,408.3 1168.0,410.0 C1168.8,411.7 1168.9,415.4 1169.6,419.3 C1170.3,423.2 1171.2,428.5 1172.0,433.1 C1172.8,437.7 1173.3,442.8 1174.3,447.0 C1175.2,451.2 1176.8,454.7 1177.7,458.5 C1178.7,462.3 1179.2,467.5 1180.0,470.0 C1180.8,472.5 1181.5,472.5 1182.3,473.5 C1183.1,474.5 1183.8,474.1 1184.6,475.8 C1185.4,477.5 1186.3,481.7 1187.0,483.9 C1187.7,486.1 1187.8,487.7 1188.6,489.2 C1189.4,490.7 1190.6,491.9 1191.6,492.7 C1192.5,493.5 1193.3,493.8 1194.3,493.8 C1195.2,493.8 1196.4,493.8 1197.3,492.7 C1198.2,491.6 1198.8,488.9 1199.7,487.4 C1200.6,485.9 1201.8,485.8 1202.7,483.9 C1203.7,482.0 1204.6,478.5 1205.4,475.8 C1206.2,473.1 1206.9,470.8 1207.7,467.7 C1208.5,464.6 1209.2,460.4 1210.0,457.3 C1210.8,454.2 1211.6,451.0 1212.4,449.3 C1213.2,447.6 1213.9,447.6 1214.7,447.0 C1215.5,446.4 1216.3,446.4 1217.0,445.8 C1217.7,445.2 1218.1,444.1 1218.8,443.5 C1219.5,442.9 1220.4,441.3 1221.1,441.9 C1221.8,442.5 1222.0,445.1 1222.7,447.0 C1223.4,448.9 1224.3,453.4 1225.1,453.4 C1225.9,453.4 1226.6,448.4 1227.4,447.0 C1228.2,445.6 1228.8,445.6 1229.7,445.3 C1230.6,445.0 1231.9,444.2 1232.7,445.1 C1233.5,446.0 1233.7,449.5 1234.3,450.4 C1234.9,451.3 1235.6,450.2 1236.6,450.4 C1237.6,450.6 1239.2,449.9 1240.1,451.6 C1241.0,453.3 1241.1,459.3 1241.9,460.8 C1242.7,462.3 1243.8,460.4 1244.7,460.4 C1245.6,460.4 1246.7,460.5 1247.5,460.8 C1248.3,461.1 1249.0,462.6 1249.8,462.0 C1250.6,461.4 1251.2,458.4 1252.1,457.3 C1253.0,456.2 1254.0,456.2 1255.1,455.7 C1256.2,455.2 1257.5,454.7 1258.5,454.3 C1259.5,453.9 1260.3,453.4 1261.3,453.4 C1262.3,453.4 1263.5,455.0 1264.3,454.3 C1265.1,453.6 1265.2,450.7 1265.9,449.3 C1266.6,447.9 1267.5,446.0 1268.2,445.8 C1268.9,445.6 1269.4,447.0 1270.1,448.1 C1270.8,449.2 1271.6,451.0 1272.4,452.7 C1273.2,454.4 1274.1,455.5 1275.2,458.5 C1276.3,461.5 1277.8,466.4 1279.0,470.8 C1280.2,475.2 1281.4,480.6 1282.6,485.1 C1283.8,489.6 1285.2,493.5 1286.2,497.7 C1287.2,501.9 1287.8,506.4 1288.7,510.3 C1289.6,514.2 1290.4,518.8 1291.5,521.0 C1292.6,523.2 1294.0,523.0 1295.1,523.6 C1296.2,524.2 1297.1,524.0 1298.0,524.6 C1298.9,525.2 1299.7,527.6 1300.5,527.5 C1301.3,527.4 1302.1,524.7 1303.0,523.9 C1303.9,523.1 1304.9,522.8 1305.9,522.8 C1306.9,522.8 1307.9,522.7 1308.8,523.9 C1309.7,525.1 1310.3,529.1 1311.3,530.0 C1312.3,530.9 1314.0,529.0 1314.9,529.3 C1315.8,529.6 1316.1,530.1 1316.7,531.8 C1317.3,533.5 1317.6,537.9 1318.5,539.7 C1319.4,541.5 1320.9,541.5 1322.1,542.6 C1323.3,543.7 1324.5,546.0 1325.7,546.2 C1326.9,546.4 1328.0,543.4 1329.2,543.7 C1330.4,544.0 1331.6,546.1 1332.8,548.0 C1334.0,549.9 1335.2,551.9 1336.4,555.2 C1337.6,558.5 1338.8,564.4 1340.0,567.7 C1341.2,571.0 1342.4,571.9 1343.6,574.9 C1344.8,577.9 1346.0,582.4 1347.2,585.7 C1348.4,589.0 1349.6,591.0 1350.8,594.6 C1352.0,598.2 1353.2,602.7 1354.4,607.2 C1355.6,611.7 1356.8,616.8 1358.0,621.6 C1359.2,626.4 1360.4,631.8 1361.6,636.0 C1362.8,640.2 1364.0,643.4 1365.2,646.7 C1366.4,650.0 1367.5,652.7 1368.7,655.7 C1369.9,658.7 1371.1,662.0 1372.3,664.7 C1373.5,667.4 1374.7,668.8 1375.9,671.8 C1377.1,674.8 1378.3,679.6 1379.5,682.6 C1380.7,685.6 1381.9,686.8 1383.1,689.8 C1384.3,692.8 1385.5,697.0 1386.7,700.6 C1387.9,704.2 1389.1,708.9 1390.3,711.3 C1391.5,713.7 1392.7,714.2 1393.9,714.9 C1395.1,715.6 1396.5,714.8 1397.5,715.7 C1398.5,716.6 1399.1,718.3 1400.0,720.3 C1400.9,722.3 1402.0,725.9 1402.9,727.5 C1403.8,729.1 1404.5,730.2 1405.4,730.0 C1406.3,729.8 1407.1,727.7 1408.2,726.4 C1409.3,725.1 1410.4,723.7 1411.8,722.1 C1413.2,720.5 1415.1,718.8 1416.5,716.7 C1417.9,714.6 1418.9,712.2 1420.1,709.5 C1421.3,706.8 1422.7,703.6 1423.7,700.6 C1424.7,697.6 1425.4,694.6 1426.2,691.6 C1427.0,688.6 1427.8,685.6 1428.7,682.6 C1429.6,679.6 1430.6,676.6 1431.6,673.6 C1432.6,670.6 1433.8,668.6 1434.5,664.7 C1435.2,660.8 1435.3,655.7 1435.9,650.3 C1436.5,644.9 1437.0,637.8 1438.0,632.4 C1439.0,627.0 1440.4,623.1 1441.6,618.0 C1442.8,612.9 1444.0,606.6 1445.2,601.8 C1446.4,597.0 1447.6,592.6 1448.8,589.3 C1450.0,586.0 1451.2,586.0 1452.4,582.1 C1453.6,578.2 1454.7,571.2 1456.0,565.9 C1457.3,560.5 1459.3,552.6 1460.0,550.0" fill="none" stroke="#12899b" stroke-width="2" stroke-linejoin="round"/>
<circle cx="101.5" cy="533.0" r="2.2" fill="#fff" stroke="#12899b" stroke-width="1.6"/><circle cx="257.5" cy="533.0" r="2.2" fill="#fff" stroke="#12899b" stroke-width="1.6"/><circle cx="412.5" cy="533.0" r="2.2" fill="#fff" stroke="#12899b" stroke-width="1.6"/><circle cx="567.5" cy="533.0" r="2.2" fill="#fff" stroke="#12899b" stroke-width="1.6"/><circle cx="723.5" cy="533.0" r="2.2" fill="#fff" stroke="#12899b" stroke-width="1.6"/><circle cx="878.5" cy="533.0" r="2.2" fill="#fff" stroke="#12899b" stroke-width="1.6"/><circle cx="1033.5" cy="533.0" r="2.2" fill="#fff" stroke="#12899b" stroke-width="1.6"/><circle cx="1189.5" cy="533.0" r="2.2" fill="#fff" stroke="#12899b" stroke-width="1.6"/><circle cx="1344.5" cy="533.0" r="2.2" fill="#fff" stroke="#12899b" stroke-width="1.6"/><circle cx="101.0" cy="441.5" r="2.2" fill="#fff" stroke="#12899b" stroke-width="1.6"/><circle cx="256.5" cy="539.7" r="2.2" fill="#fff" stroke="#12899b" stroke-width="1.6"/><circle cx="412.0" cy="541.7" r="2.2" fill="#fff" stroke="#12899b" stroke-width="1.6"/><circle cx="567.5" cy="476.0" r="2.2" fill="#fff" stroke="#12899b" stroke-width="1.6"/><circle cx="723.0" cy="639.9" r="2.2" fill="#fff" stroke="#12899b" stroke-width="1.6"/><circle cx="878.5" cy="456.0" r="2.2" fill="#fff" stroke="#12899b" stroke-width="1.6"/><circle cx="1034.0" cy="617.9" r="2.2" fill="#fff" stroke="#12899b" stroke-width="1.6"/><circle cx="1189.5" cy="489.2" r="2.2" fill="#fff" stroke="#12899b" stroke-width="1.6"/><circle cx="1344.5" cy="574.9" r="2.2" fill="#fff" stroke="#12899b" stroke-width="1.6"/><circle cx="101.0" cy="486.4" r="2.2" fill="#fff" stroke="#ee6a6a" stroke-width="1.6"/><circle cx="256.5" cy="564.9" r="2.2" fill="#fff" stroke="#ee6a6a" stroke-width="1.6"/><circle cx="412.0" cy="550.0" r="2.2" fill="#fff" stroke="#ee6a6a" stroke-width="1.6"/><circle cx="567.5" cy="443.7" r="2.2" fill="#fff" stroke="#ee6a6a" stroke-width="1.6"/><circle cx="723.0" cy="647.8" r="2.2" fill="#fff" stroke="#ee6a6a" stroke-width="1.6"/><circle cx="878.5" cy="490.4" r="2.2" fill="#fff" stroke="#ee6a6a" stroke-width="1.6"/><circle cx="1034.0" cy="599.5" r="2.2" fill="#fff" stroke="#ee6a6a" stroke-width="1.6"/>
<g transform="translate(1269.6,240.2) scale(0.27)"><path d="M4.1,28.9h7.1l9.3-22l7.4,38l9.7-19.7l3,12.8h14.9M4.1,58h51.4" fill="none" stroke="#ececec" stroke-width="3.8"/></g><g transform="translate(1297.2,240.2) scale(0.27)"><path d="M6.7,22.9h10V48h-10V22.9zM24.9,13h10v35h-10V13zM43.2,2h10v46h-10V2zM3.1,58h53.7" fill="none" stroke="#ececec" stroke-width="3.8"/></g><g transform="translate(1324.8,240.2) scale(0.27)"><path d="M3.8,33.4 M47,18.9h9.8V8.7 M56.3,20.1 C52.1,9,40.5,0.6,26.8,2.1C12.6,3.7,1.6,16.2,2.1,30.6 M13,41.1H3.1v10.2 M3.7,39.9c4.2,11.1,15.8,19.5,29.5,18 c14.2-1.6,25.2-14.1,24.7-28.5" fill="none" stroke="#ececec" stroke-width="3.8"/></g><g transform="translate(1352.3,240.2) scale(0.27)"><path d="M4.7,22.9L29.3,45.5L54.7,23.4M4.6,43.6L4.6,58L53.8,58L53.8,43.6M29.2,45.1L29.2,0" fill="none" stroke="#ececec" stroke-width="3.8"/></g><g transform="translate(1379.0,240.2) scale(0.27)"><path d="M0,13.5h26.9 M13.5,26.9V0 M32.1,13.5H58V58H13.5 V32.1" fill="none" stroke="#ececec" stroke-width="3.8"/></g><g transform="translate(1405.0,240.2) scale(0.27)"><path d="M22,1.4L9.9,13.5l12.3,12.3 M10.3,13.5H54.9v44.6 H10.3v-26" fill="none" stroke="#ececec" stroke-width="3.8"/></g>
</svg>

<div class="a ai"></div>
<svg class="a" style="left:10px;top:516px" width="30" height="30" viewBox="0 0 30 30">
<path d="M8.72,20.07 A8.2,8.2 0 1 1 11.53,22.23 L8.4,23.2 Z" fill="none" stroke="#fff" stroke-width="1.4" stroke-linejoin="round"/>
<text x="15" y="17.9" text-anchor="middle" font-size="8.5" font-weight="bold" fill="#fff" font-family="Liberation Sans">AI</text>
</svg>
<svg class="a" style="left:1440px;top:60px" width="16" height="35" viewBox="0 0 16 35"><circle cx="18.5" cy="16.5" r="10.3" fill="none" stroke="#4a90d9" stroke-width="5"/><rect x="13.5" y="3" width="3" height="3" fill="#4a90d9"/></svg>
</body></html>
